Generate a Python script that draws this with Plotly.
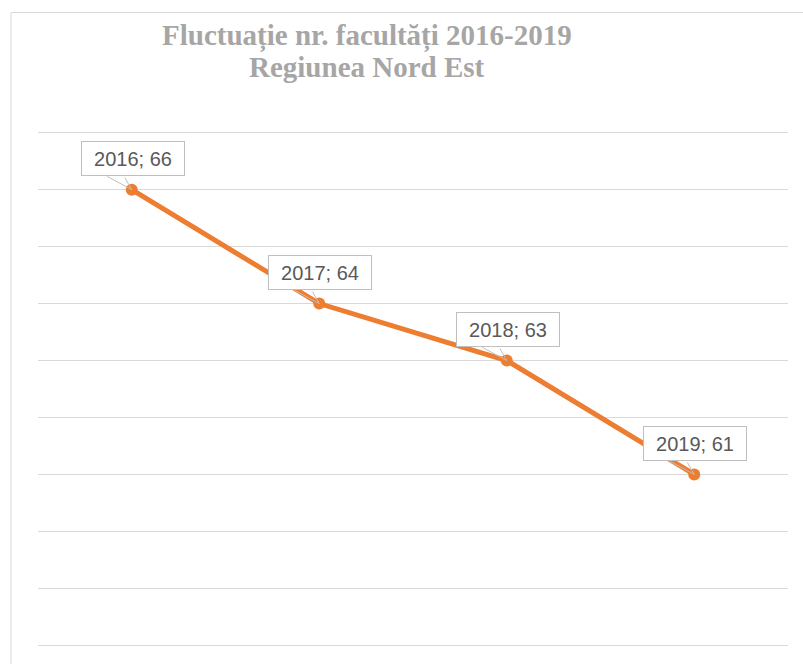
import plotly.graph_objects as go

years = ["2016", "2017", "2018", "2019"]
faculties = [66, 64, 63, 61]
title_lines = ["Fluctuație nr. facultăți 2016-2019", "Regiunea Nord Est"]
y_min, y_max = 58, 67

ORANGE = "#ED7D31"
GRID = "#D9D9D9"

fig = go.Figure()
fig.add_trace(go.Scatter(
    x=years, y=faculties, mode="lines+markers",
    line=dict(color=ORANGE, width=5),
    marker=dict(color=ORANGE, size=12),
    hoverinfo="skip", showlegend=False,
))

annotations = []
for i, (yr, v) in enumerate(zip(years, faculties)):
    # callout tail (two thin lines forming a wedge)
    for dx in (-26, -8):
        annotations.append(dict(
            x=i, y=v, xref="x", yref="y", text=" ", showarrow=True,
            arrowhead=0, arrowwidth=1, arrowcolor="#BFBFBF",
            ax=dx, ay=-14, standoff=0, font=dict(size=1),
        ))
    annotations.append(dict(
        x=i, y=v, xref="x", yref="y",
        text=f"{yr}; {v}", showarrow=False,
        yshift=31, xshift=1,
        font=dict(family="Liberation Sans, Arial", size=20, color="#595959"),
        bgcolor="white", bordercolor="#BFBFBF", borderwidth=1,
        borderpad=4, width=94, height=25,
    ))

PLOT_TOP, PLOT_BOTTOM = 131, 647
PAD = 0.03
def py2paper(py):
    return (PLOT_BOTTOM - py) / (PLOT_BOTTOM - PLOT_TOP)

for line, py in zip(title_lines, (36, 67)):
    annotations.append(dict(
        x=(367 - 38) / 750, y=py2paper(py), xref="paper", yref="paper",
        text=line, showarrow=False, xanchor="center", yanchor="middle",
        font=dict(family="Liberation Serif, Times New Roman", size=29,
                  color="#A6A6A6", weight="bold"),
    ))

fig.update_layout(
    width=803, height=664,
    margin=dict(l=38, r=15, t=PLOT_TOP, b=664 - PLOT_BOTTOM, pad=0),
    paper_bgcolor="white", plot_bgcolor="white",
    xaxis=dict(type="category", range=[-0.5, 3.5], showticklabels=False,
               showgrid=False, zeroline=False, showline=False, ticks=""),
    yaxis=dict(range=[y_min - PAD, y_max + PAD], dtick=1, tick0=y_min,
               showticklabels=False, showgrid=True, gridcolor=GRID, gridwidth=1,
               zeroline=False, showline=False, ticks=""),
    annotations=annotations,
    shapes=[dict(type="rect", xref="paper", yref="paper",
                 x0=-27 / 750, x1=1.03, y0=-0.06, y1=py2paper(12.5),
                 line=dict(color=GRID, width=1), fillcolor="rgba(0,0,0,0)",
                 layer="below")],
)

fig.write_html("out.html", config={"displayModeBar": False},
               post_script="document.body.style.margin='0';")
